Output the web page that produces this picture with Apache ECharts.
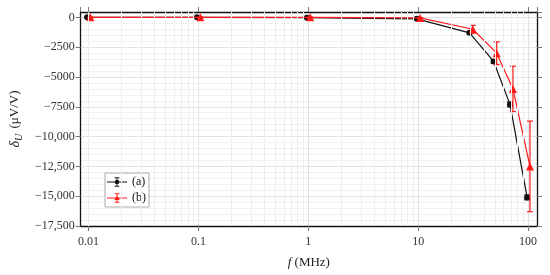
<!DOCTYPE html>
<html>
<head>
<meta charset="utf-8">
<script src="https://cdn.jsdelivr.net/npm/echarts@6/dist/echarts.min.js"></script>
<style>
  html, body { margin: 0; padding: 0; background: #fff; }
  #chart { width: 550px; height: 275px; }
</style>
</head>
<body>
<div id="chart"></div>
<script>
// series (a): black circles
const freqA = [0.0097, 0.097, 0.97, 9.7, 29.3, 48.6, 68.4, 98];
const deltaA = [0, 0, -30, -120, -1300, -3700, -7300, -15100];
const errA = [20, 20, 20, 30, 80, 150, 200, 200];
// series (b): red triangles
const freqB = [0.0104, 0.104, 1.04, 10.4, 31.4, 51.8, 72.8, 104];
const deltaB = [0, 0, 0, -50, -1000, -3000, -6000, -12500];
const errB = [20, 20, 20, 40, 330, 950, 1900, 3800];
// light vertical minor grid (2..9 per decade)
const minorFreq = [0.009, 0.02, 0.03, 0.04, 0.05, 0.06, 0.07, 0.08, 0.09,
  0.2, 0.3, 0.4, 0.5, 0.6, 0.7, 0.8, 0.9, 2, 3, 4, 5, 6, 7, 8, 9,
  20, 30, 40, 50, 60, 70, 80, 90];
const xTickLabels = { '0.01': '0.01', '0.1': '0.1', '1': '1', '10': '10', '100': '100' };

const FONT = '"Liberation Serif", "DejaVu Serif", serif';
const BLACK = '#111';
const RED = '#ff1a1a';

// legend glyphs: line + marker + error bar with caps
const iconA = 'path://M0,6.3H30V7.7H0Z M14.3,0H15.7V14H14.3Z M11.5,0H18.5V1.4H11.5Z M11.5,12.6H18.5V14H11.5Z M11.6,7A3.4,3.4,0,1,1,18.4,7A3.4,3.4,0,1,1,11.6,7Z';
const iconB = 'path://M0,6.3H30V7.7H0Z M14.3,0H15.7V14H14.3Z M11.5,0H18.5V1.4H11.5Z M11.5,12.6H18.5V14H11.5Z M15,3L19,10H11Z';

function fmtY(v) {
  if (v === 0) return '0';
  const a = Math.abs(v);
  let s = String(a);
  if (a >= 10000) s = s.replace(/\B(?=(\d{3})+(?!\d))/g, ',');
  return (v < 0 ? '\u2212' : '') + s;
}

function pairs(xs, ys) {
  return xs.map((x, i) => [x, ys[i]]);
}
function bars(xs, ys, es) {
  return xs.map((x, i) => [x, ys[i] - es[i], ys[i] + es[i]]);
}

function errorBar(color) {
  return function (params, api) {
    const lo = api.coord([api.value(0), api.value(1)]);
    const hi = api.coord([api.value(0), api.value(2)]);
    const w = 3;
    const style = { stroke: color, lineWidth: 1.2 };
    return {
      type: 'group',
      children: [
        { type: 'line', shape: { x1: lo[0], y1: lo[1], x2: hi[0], y2: hi[1] }, style },
        { type: 'line', shape: { x1: lo[0] - w, y1: lo[1], x2: lo[0] + w, y2: lo[1] }, style },
        { type: 'line', shape: { x1: hi[0] - w, y1: hi[1], x2: hi[0] + w, y2: hi[1] }, style }
      ]
    };
  };
}

const chart = echarts.init(document.getElementById('chart'), null, { renderer: 'canvas' });

const xMin = 0.00847, xMax = 120.5;
const yMin = -17500, yMax = 450;

const option = {
  animation: false,
  textStyle: { fontFamily: FONT },
  grid: { left: 77, right: 13, top: 12, bottom: 49 },
  legend: {
    left: 105,
    top: 173,
    orient: 'vertical',
    itemWidth: 20,
    itemHeight: 12,
    itemGap: 4,
    padding: [3, 3, 3, 2],
    borderColor: '#aaa',
    borderWidth: 1,
    backgroundColor: '#fff',
    textStyle: { fontFamily: FONT, fontSize: 12, color: '#111' },
    data: [
      { name: '(a)', icon: iconA },
      { name: '(b)', icon: iconB }
    ]
  },
  xAxis: [
    {
      type: 'log',
      logBase: 10,
      min: xMin,
      max: xMax,
      name: '{i|f} (MHz)',
      nameLocation: 'middle',
      nameGap: 30,
      nameTextStyle: {
        fontFamily: FONT, fontSize: 13, color: '#222',
        rich: { i: { fontFamily: FONT, fontSize: 13, fontStyle: 'italic', color: '#222' } }
      },
      axisLine: { onZero: false, lineStyle: { color: '#111', width: 1.3 } },
      axisTick: { inside: false, length: 5, lineStyle: { color: '#777' } },
      axisLabel: {
        margin: 10, fontFamily: FONT, fontSize: 12, color: '#333',
        showMinLabel: false, showMaxLabel: false,
        formatter: function (v) {
          const k = String(+v.toPrecision(6));
          return xTickLabels[k] || '';
        }
      },
      splitLine: { show: true, lineStyle: { color: '#e2e2e2', width: 1 } }
    },
    {
      type: 'log',
      logBase: 10,
      min: xMin,
      max: xMax,
      position: 'top',
      axisLine: { onZero: false, lineStyle: { color: '#111', width: 1.3 } },
      axisTick: { inside: false, length: 5, lineStyle: { color: '#777' } },
      axisLabel: { show: false },
      splitLine: { show: false }
    }
  ],
  yAxis: [
    {
      type: 'value',
      min: yMin,
      max: yMax,
      interval: 2500,
      name: '{d|\u03b4}{s|U} (\u03bcV/V)',
      nameLocation: 'middle',
      nameRotate: 90,
      nameGap: 52,
      nameTextStyle: {
        fontFamily: FONT, fontSize: 13, color: '#222',
        rich: {
          d: { fontFamily: FONT, fontSize: 14, fontStyle: 'italic', color: '#222' },
          s: { fontFamily: FONT, fontSize: 10, fontStyle: 'italic', color: '#222', padding: [8, 2, 0, 0] }
        }
      },
      axisLine: { show: true, onZero: false, lineStyle: { color: '#111', width: 1.3 } },
      axisTick: { show: true, inside: false, length: 5, lineStyle: { color: '#777' } },
      axisLabel: {
        margin: 6, fontFamily: FONT, fontSize: 12, color: '#333',
        showMaxLabel: false,
        formatter: fmtY
      },
      splitLine: { show: true, lineStyle: { color: '#e2e2e2', width: 1 } },
      minorTick: { show: false, splitNumber: 5 },
      minorSplitLine: { show: true, lineStyle: { color: '#f1f1f1', width: 1 } }
    },
    {
      type: 'value',
      min: yMin,
      max: yMax,
      interval: 2500,
      position: 'right',
      axisLine: { show: true, onZero: false, lineStyle: { color: '#111', width: 1.3 } },
      axisTick: { show: true, inside: false, length: 5, lineStyle: { color: '#777' } },
      axisLabel: { show: false },
      splitLine: { show: false }
    }
  ],
  series: [
    {
      name: 'minor',
      type: 'line',
      data: [],
      silent: true,
      markLine: {
        silent: true,
        symbol: 'none',
        label: { show: false },
        lineStyle: { color: '#efefef', width: 1, type: 'solid' },
        data: minorFreq.map(f => ({ xAxis: f }))
      }
    },
    {
      name: '(a)',
      type: 'line',
      data: pairs(freqA, deltaA),
      symbol: 'circle',
      symbolSize: 6,
      color: BLACK,
      lineStyle: { color: BLACK, width: 1.2 },
      itemStyle: { color: BLACK },
      z: 3
    },
    {
      name: '(b)',
      type: 'line',
      data: pairs(freqB, deltaB),
      symbol: 'triangle',
      symbolSize: 8,
      color: RED,
      lineStyle: { color: RED, width: 1.2 },
      itemStyle: { color: RED },
      z: 4
    },
    {
      name: 'errA',
      type: 'custom',
      renderItem: errorBar(BLACK),
      data: bars(freqA, deltaA, errA),
      encode: { x: 0, y: [1, 2] },
      z: 3
    },
    {
      name: 'errB',
      type: 'custom',
      renderItem: errorBar(RED),
      data: bars(freqB, deltaB, errB),
      encode: { x: 0, y: [1, 2] },
      z: 4
    }
  ]
};

chart.setOption(option);
</script>
</body>
</html>
